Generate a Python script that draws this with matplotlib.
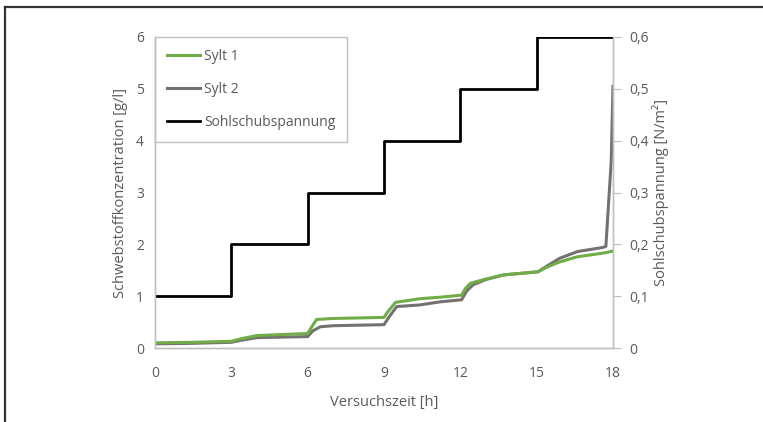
import matplotlib
matplotlib.use("Agg")
import matplotlib.pyplot as plt
from matplotlib.lines import Line2D
from matplotlib.ticker import FuncFormatter

plt.rcParams['font.family'] = ['Open Sans', 'DejaVu Sans']

# Sohlschubspannung (stepwise, N/m2)
tau_t = [0, 3, 3, 6, 6, 9, 9, 12, 12, 15, 15, 18]
tau_v = [0.1, 0.1, 0.2, 0.2, 0.3, 0.3, 0.4, 0.4, 0.5, 0.5, 0.6, 0.6]

# Sylt 1 (g/l)
s1_t = [0, 1.5, 3.0, 3.4, 4.0, 5.0, 6.0, 6.15, 6.35, 7.0, 9.0, 9.15, 9.45, 10.4, 11.2, 12.05,
        12.2, 12.4, 13.0, 13.7, 15.05, 15.4, 15.9, 16.6, 17.6, 18.0]
s1_v = [0.10, 0.11, 0.13, 0.18, 0.24, 0.26, 0.28, 0.40, 0.55, 0.57, 0.59, 0.70, 0.88, 0.95, 0.98, 1.02,
        1.15, 1.25, 1.33, 1.41, 1.47, 1.56, 1.66, 1.76, 1.83, 1.87]

# Sylt 2 (g/l)
s2_t = [0, 1.5, 3.0, 3.4, 4.0, 5.0, 6.0, 6.2, 6.5, 7.0, 9.0, 9.2, 9.5, 10.4, 11.2, 12.05,
        12.25, 12.5, 13.0, 13.7, 15.05, 15.4, 15.9, 16.6, 17.6, 17.72, 17.93, 18.0]
s2_v = [0.08, 0.09, 0.11, 0.15, 0.20, 0.21, 0.22, 0.33, 0.41, 0.43, 0.45, 0.60, 0.80, 0.83, 0.89, 0.93,
        1.10, 1.22, 1.32, 1.41, 1.47, 1.58, 1.73, 1.86, 1.94, 1.96, 3.60, 5.05]

x_ticks = [0, 3, 6, 9, 12, 15, 18]

green = '#70AD47'
grey = '#767171'
txt = '#595959'
spine = '#BFBFBF'

fig = plt.figure(figsize=(7.63, 4.22), dpi=100)
ax = fig.add_axes([155 / 763, 1 - 348 / 422, 458 / 763, 311 / 422])
ax2 = ax.twinx()

l1, = ax.plot(s1_t, s1_v, color=green, lw=2.2, label='Sylt 1', zorder=3)
l2, = ax.plot(s2_t, s2_v, color=grey, lw=2.2, label='Sylt 2', zorder=2)
l3, = ax2.plot(tau_t, tau_v, color='black', lw=2.0, label='Sohlschubspannung')

ax.set_xlim(0, 18)
ax.set_ylim(0, 6)
ax2.set_ylim(0, 0.6)
ax.set_xticks(x_ticks)
ax.set_yticks(range(7))
ax2.set_yticks([0, 0.1, 0.2, 0.3, 0.4, 0.5, 0.6])
ax2.yaxis.set_major_formatter(FuncFormatter(lambda v, p: '0' if v == 0 else f'{v:.1f}'.replace('.', ',')))

for a in (ax, ax2):
    a.spines['top'].set_visible(False)
    for s in ('left', 'bottom', 'right'):
        a.spines[s].set_color(spine)
        a.spines[s].set_linewidth(1.0)
ax.tick_params(axis='both', length=0, labelsize=10, colors=txt, pad=8)
ax.tick_params(axis='x', pad=13)
ax2.tick_params(axis='y', length=6, color=spine, labelsize=10, colors=txt, pad=6)

ax.set_xlabel('Versuchszeit [h]', fontsize=10.5, color=txt, labelpad=10)
ax.set_ylabel('Schwebstoffkonzentration [g/l]', fontsize=10.5, color=txt, labelpad=6)
ax2.set_ylabel('Sohlschubspannung [N/m²]', fontsize=10.5, color=txt, labelpad=2)

leg = ax.legend(handles=[l1, l2, l3], loc='upper left', bbox_to_anchor=(0, 1),
                borderaxespad=0, fancybox=False, framealpha=1, edgecolor=spine,
                fontsize=10, labelspacing=1.3, handlelength=2.4, handletextpad=0.3,
                borderpad=0.85, labelcolor=txt)
leg.get_frame().set_linewidth(1.0)
leg.set_zorder(5)

# outer frame of the picture
fig.add_artist(Line2D([5 / 763, 1], [1 - 7 / 422, 1 - 7 / 422], color='#333333', lw=1.6))
fig.add_artist(Line2D([5 / 763, 5 / 763], [0, 1 - 7 / 422], color='#333333', lw=1.6))

fig.savefig('out.png', dpi=100)
